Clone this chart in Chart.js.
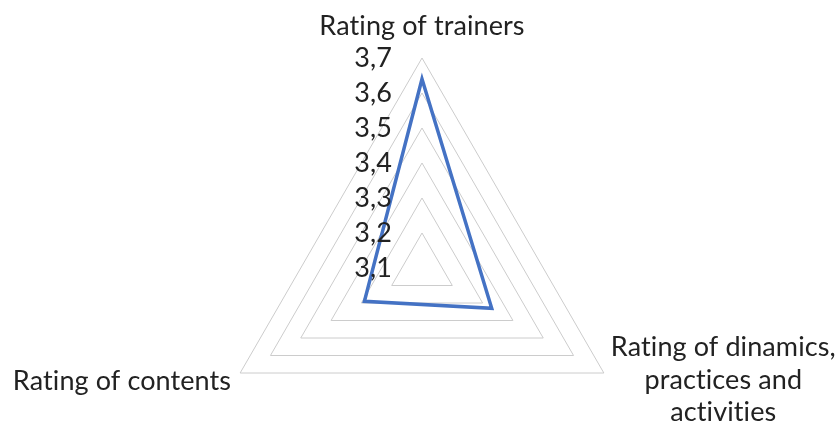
<!DOCTYPE html>
<html>
<head>
<meta charset="utf-8">
<script src="https://cdn.jsdelivr.net/npm/chart.js@4/dist/chart.umd.min.js"></script>
<style>
  html, body { margin: 0; padding: 0; background: #ffffff; overflow: hidden; }
  #frame { width: 837px; height: 427px; overflow: hidden; position: relative; }
  #box { width: 837px; height: 478px; position: relative; }
</style>
</head>
<body>
<div id="frame"><div id="box"><canvas id="c"></canvas></div></div>
<script>
// ---- data ----
const categories = [
  'Rating of trainers',
  ['Rating of dinamics,', 'practices and', 'activities'],
  'Rating of contents'
];
const ratingValues = [3.64, 3.33, 3.29];
const tickValues = [3.1, 3.2, 3.3, 3.4, 3.5, 3.6, 3.7];
const tickLabels = ['3,1', '3,2', '3,3', '3,4', '3,5', '3,6', '3,7'];
const scaleMin = 3.1;
const scaleMax = 3.7;

const TEXT_COLOR = '#222222';
const FONT = '27px Lato, "Open Sans", sans-serif';

const labelPlugin = {
  id: 'excelLabels',
  afterDraw(chart) {
    const s = chart.scales.r;
    const ctx = chart.ctx;
    ctx.save();
    ctx.font = FONT;
    if ('letterSpacing' in ctx) ctx.letterSpacing = '0.1px';
    ctx.fillStyle = TEXT_COLOR;
    // tick labels, right-aligned to the left of the vertical axis
    ctx.textAlign = 'right';
    ctx.textBaseline = 'middle';
    tickValues.forEach((v, i) => {
      const y = s.yCenter - s.getDistanceFromCenterForValue(v);
      ctx.fillText(tickLabels[i], s.xCenter - 30, y);
    });
    // category labels
    const lineH = 32.5;
    categories.forEach((lab, i) => {
      const p = s.getPointPosition(i, s.drawingArea);
      const lines = Array.isArray(lab) ? lab : [lab];
      const ang = (p.angle * 180 / Math.PI + 450) % 360; // 0 = top, clockwise
      if (ang < 1 || ang > 359) {
        ctx.textAlign = 'center';
        ctx.textBaseline = 'alphabetic';
        lines.forEach((t, k) => ctx.fillText(t, p.x, p.y - 23 - (lines.length - 1 - k) * lineH));
      } else if (ang < 180) {
        const w = Math.max(...lines.map(t => ctx.measureText(t).width));
        const cx = p.x + 7 + w / 2;
        ctx.textAlign = 'center';
        ctx.textBaseline = 'alphabetic';
        lines.forEach((t, k) => ctx.fillText(t, cx, p.y - 17 + k * lineH));
      } else {
        ctx.textAlign = 'right';
        ctx.textBaseline = 'alphabetic';
        lines.forEach((t, k) => ctx.fillText(t, p.x - 9, p.y + 17 + k * lineH));
      }
    });
    ctx.restore();
  }
};

new Chart(document.getElementById('c'), {
  type: 'radar',
  data: {
    labels: categories,
    datasets: [{
      data: ratingValues,
      borderColor: '#4472C4',
      borderWidth: 3.5,
      borderJoinStyle: 'miter',
      fill: false,
      pointRadius: 0,
      pointHoverRadius: 0
    }]
  },
  options: {
    responsive: true,
    maintainAspectRatio: false,
    animation: false,
    layout: { padding: { left: 212, right: 205, top: 58, bottom: 0 } },
    plugins: { legend: { display: false }, tooltip: { enabled: false } },
    scales: {
      r: {
        min: scaleMin,
        max: scaleMax,
        beginAtZero: false,
        ticks: { stepSize: 0.1, display: false },
        grid: { color: '#cccccc', lineWidth: 1 },
        angleLines: { display: false },
        pointLabels: { display: false }
      }
    }
  },
  plugins: [labelPlugin]
});
</script>
</body>
</html>
